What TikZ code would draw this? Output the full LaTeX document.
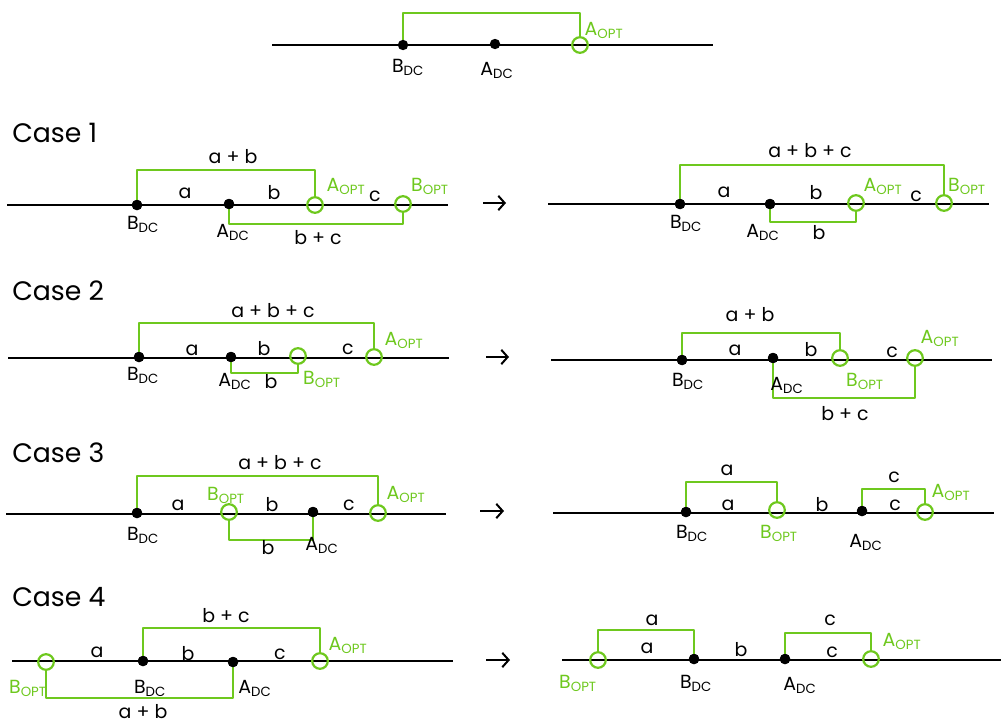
\documentclass[tikz,border=0pt]{standalone}
\usepackage{fontspec}
\setmainfont{Poppins}
\usetikzlibrary{arrows.meta}
\definecolor{gr}{RGB}{110,200,30}
\tikzset{
  axis/.style={line width=0.6mm, black},
  dotn/.style={circle, fill=black, inner sep=0pt, minimum size=2.6mm},
  optc/.style={circle, draw=gr, line width=0.55mm, inner sep=0pt, minimum size=3.9mm},
  br/.style={draw=gr, line width=0.6mm, line join=round},
  lbl/.style={font=\fontsize{13.5}{13.5}\selectfont, inner sep=0pt},
  glbl/.style={lbl, text=gr},
  ttl/.style={font=\fontsize{19}{19}\selectfont, inner sep=0pt, anchor=west},
  arr/.style={line width=0.5mm, -{Straight Barb[length=1.6mm, width=3.6mm]}},
}
\newcommand{\BDC}{B\textsubscript{DC}}
\newcommand{\ADC}{A\textsubscript{DC}}
\newcommand{\BOPT}{B\textsubscript{OPT}}
\newcommand{\AOPT}{A\textsubscript{OPT}}
\begin{document}
\begin{tikzpicture}[x=0.25mm, y=-0.25mm]
\useasboundingbox (0,0) rectangle (1001,726);

% ---------- top ----------
\coordinate (t-l) at (272,45); \coordinate (t-r) at (713,45);
\draw[axis] (t-l) -- (t-r);
\node[optc] (t-aopt) at (580,45) {};
\draw[br] (403,45) -- ++(0,-32) -| (t-aopt.north);
\node[dotn] (t-bdc) at (403,45) {};
\node[dotn] (t-adc) at (495,44) {};
\node[lbl] (t-bdcl) at (408,67) {\BDC};
\node[lbl] (t-adcl) at (497,70) {\ADC};
\node[glbl] (t-aoptl) at (604,30) {\AOPT};

% ---------- case 1 left ----------
\node[ttl] (c1t) at (12,133) {Case 1};
\coordinate (c1-l) at (7,205); \coordinate (c1-r) at (448,205);
\draw[axis] (c1-l) -- (c1-r);
\node[dotn] (c1-bdc) at (137,205) {};
\node[dotn] (c1-adc) at (229,204) {};
\node[optc] (c1-aopt) at (315,205) {};
\node[optc] (c1-bopt) at (403,204) {};
\draw[br] (c1-bdc.center) -- ++(0,-35) -| (c1-aopt.north);
\draw[br] (c1-adc.center) -- ++(0,20) -| (c1-bopt.south);
\node[dotn] at (c1-bdc) {};
\node[dotn] at (c1-adc) {};
\node[lbl] (c1-s1) at (233,157) {a + b};
\node[lbl] (c1-s2) at (318,238) {b + c};
\node[lbl] (c1-a) at (185,193) {a};
\node[lbl] (c1-b) at (274,193) {b};
\node[lbl] (c1-c) at (375,196) {c};
\node[glbl] (c1-aoptl) at (346,186) {\AOPT};
\node[glbl] (c1-boptl) at (430,186) {\BOPT};
\node[lbl] (c1-bdcl) at (143,224) {\BDC};
\node[lbl] (c1-adcl) at (233,232) {\ADC};

% ---------- case 1 right ----------
\coordinate (a1s) at (483,203); \coordinate (a1e) at (506,203);
\draw[arr] (a1s) -- (a1e);
\coordinate (d1-l) at (548,204); \coordinate (d1-r) at (989,204);
\draw[axis] (d1-l) -- (d1-r);
\node[dotn] (d1-bdc) at (680,204) {};
\node[dotn] (d1-adc) at (770,204) {};
\node[optc] (d1-aopt) at (856,203) {};
\node[optc] (d1-bopt) at (944,203) {};
\draw[br] (d1-bdc.center) -- ++(0,-39) -| (d1-bopt.north);
\draw[br] (d1-adc.center) -- ++(0,18) -| (d1-aopt.south);
\node[dotn] at (d1-bdc) {};
\node[dotn] at (d1-adc) {};
\node[lbl] (d1-s1) at (810,151) {a + b + c};
\node[lbl] (d1-s2) at (819,233) {b};
\node[lbl] (d1-a) at (724,192) {a};
\node[lbl] (d1-b) at (816,193) {b};
\node[lbl] (d1-c) at (916,196) {c};
\node[glbl] (d1-aoptl) at (883,186) {\AOPT};
\node[glbl] (d1-boptl) at (967,186) {\BOPT};
\node[lbl] (d1-bdcl) at (686,223) {\BDC};
\node[lbl] (d1-adcl) at (763,232) {\ADC};

% ---------- case 2 left ----------
\node[ttl] (c2t) at (12,291) {Case 2};
\coordinate (c2-l) at (8,358); \coordinate (c2-r) at (449,358);
\draw[axis] (c2-l) -- (c2-r);
\node[dotn] (c2-bdc) at (139,357) {};
\node[dotn] (c2-adc) at (231,357) {};
\node[optc] (c2-bopt) at (298,356) {};
\node[optc] (c2-aopt) at (374,357) {};
\draw[br] (c2-bdc.center) -- ++(0,-34) -| (c2-aopt.north);
\draw[br] (c2-adc.center) -- ++(0,16) -| (c2-bopt.south);
\node[dotn] at (c2-bdc) {};
\node[dotn] at (c2-adc) {};
\node[lbl] (c2-s1) at (273,311) {a + b + c};
\node[lbl] (c2-s2) at (271,382) {b};
\node[lbl] (c2-a) at (192,350) {a};
\node[lbl] (c2-b) at (264,349) {b};
\node[lbl] (c2-c) at (348,349) {c};
\node[glbl] (c2-boptl) at (322,379) {\BOPT};
\node[glbl] (c2-aoptl) at (404,340) {\AOPT};
\node[lbl] (c2-bdcl) at (143,375) {\BDC};
\node[lbl] (c2-adcl) at (235,381) {\ADC};

% ---------- case 2 right ----------
\coordinate (a2s) at (486,357); \coordinate (a2e) at (509,357);
\draw[arr] (a2s) -- (a2e);
\coordinate (d2-l) at (551,360); \coordinate (d2-r) at (992,360);
\draw[axis] (d2-l) -- (d2-r);
\node[dotn] (d2-bdc) at (682,360) {};
\node[dotn] (d2-adc) at (773,358) {};
\node[optc] (d2-bopt) at (840,358) {};
\node[optc] (d2-aopt) at (915,358) {};
\draw[br] (d2-bdc.center) -- ++(0,-27) -| (d2-bopt.north);
\draw[br] (d2-adc.center) -- ++(0,40) -| (d2-aopt.south);
\node[dotn] at (d2-bdc) {};
\node[dotn] at (d2-adc) {};
\node[lbl] (d2-s1) at (750,315) {a + b};
\node[lbl] (d2-s2) at (845,414) {b + c};
\node[lbl] (d2-a) at (735,350) {a};
\node[lbl] (d2-b) at (811,350) {b};
\node[lbl] (d2-c) at (892,352) {c};
\node[glbl] (d2-boptl) at (865,381) {\BOPT};
\node[glbl] (d2-aoptl) at (940,338) {\AOPT};
\node[lbl] (d2-bdcl) at (688,381) {\BDC};
\node[lbl] (d2-adcl) at (787,385) {\ADC};

% ---------- case 3 left ----------
\node[ttl] (c3t) at (12,453) {Case 3};
\coordinate (c3-l) at (6,514); \coordinate (c3-r) at (446,514);
\draw[axis] (c3-l) -- (c3-r);
\node[dotn] (c3-bdc) at (137,513) {};
\node[optc] (c3-bopt) at (229,512) {};
\node[dotn] (c3-adc) at (313,512) {};
\node[optc] (c3-aopt) at (378,513) {};
\draw[br] (c3-bdc.center) -- ++(0,-37) -| (c3-aopt.north);
\draw[br] (c3-bopt.south) -- ++(0,19) -| (c3-adc.center);
\node[dotn] at (c3-bdc) {};
\node[dotn] at (c3-adc) {};
\node[lbl] (c3-s1) at (280,463) {a + b + c};
\node[lbl] (c3-s2) at (268,548) {b};
\node[lbl] (c3-a) at (178,505) {a};
\node[lbl] (c3-b) at (272,505) {b};
\node[lbl] (c3-c) at (349,505) {c};
\node[glbl] (c3-boptl) at (226,495) {\BOPT};
\node[glbl] (c3-aoptl) at (406,494) {\AOPT};
\node[lbl] (c3-bdcl) at (143,535) {\BDC};
\node[lbl] (c3-adcl) at (322,545) {\ADC};

% ---------- case 3 right ----------
\coordinate (a3s) at (480,511); \coordinate (a3e) at (504,511);
\draw[arr] (a3s) -- (a3e);
\coordinate (d3-l) at (553,513); \coordinate (d3-r) at (994,513);
\draw[axis] (d3-l) -- (d3-r);
\node[dotn] (d3-bdc) at (686,512) {};
\node[optc] (d3-bopt) at (777,510) {};
\node[dotn] (d3-adc) at (862,511) {};
\node[optc] (d3-aopt) at (925,512) {};
\draw[br] (d3-bdc.center) -- ++(0,-30) -| (d3-bopt.north);
\draw[br] (d3-adc.center) -- ++(0,-22) -| (d3-aopt.north);
\node[dotn] at (d3-bdc) {};
\node[dotn] at (d3-adc) {};
\node[lbl] (d3-s1) at (727,470) {a};
\node[lbl] (d3-s2) at (894,477) {c};
\node[lbl] (d3-a) at (728,505) {a};
\node[lbl] (d3-b) at (822,505) {b};
\node[lbl] (d3-c) at (895,505) {c};
\node[glbl] (d3-boptl) at (779,533) {\BOPT};
\node[glbl] (d3-aoptl) at (951,492) {\AOPT};
\node[lbl] (d3-bdcl) at (692,533) {\BDC};
\node[lbl] (d3-adcl) at (866,542) {\ADC};

% ---------- case 4 left ----------
\node[ttl] (c4t) at (12,597) {Case 4};
\coordinate (c4-l) at (12,661); \coordinate (c4-r) at (453,661);
\draw[axis] (c4-l) -- (c4-r);
\node[optc] (c4-bopt) at (46,662) {};
\node[dotn] (c4-bdc) at (143,661) {};
\node[dotn] (c4-adc) at (233,662) {};
\node[optc] (c4-aopt) at (320,661) {};
\draw[br] (c4-bdc.center) -- ++(0,-33) -| (c4-aopt.north);
\draw[br] (c4-bopt.south) -- ++(0,27) -| (c4-adc.center);
\node[dotn] at (c4-bdc) {};
\node[dotn] at (c4-adc) {};
\node[lbl] (c4-s1) at (226,616) {b + c};
\node[lbl] (c4-s2) at (143,712) {a + b};
\node[lbl] (c4-a) at (97,652) {a};
\node[lbl] (c4-b) at (188,654) {b};
\node[lbl] (c4-c) at (280,654) {c};
\node[glbl] (c4-boptl) at (28,688) {\BOPT};
\node[glbl] (c4-aoptl) at (348,645) {\AOPT};
\node[lbl] (c4-bdcl) at (150,688) {\BDC};
\node[lbl] (c4-adcl) at (255,688) {\ADC};

% ---------- case 4 right ----------
\coordinate (a4s) at (486,660); \coordinate (a4e) at (510,660);
\draw[arr] (a4s) -- (a4e);
\coordinate (d4-l) at (562,660); \coordinate (d4-r) at (1001,660);
\draw[axis] (d4-l) -- (d4-r);
\node[optc] (d4-bopt) at (598,660) {};
\node[dotn] (d4-bdc) at (694,659) {};
\node[dotn] (d4-adc) at (785,659) {};
\node[optc] (d4-aopt) at (871,659) {};
\draw[br] (d4-bopt.north) -- ++(0,-21) -| (d4-bdc.center);
\draw[br] (d4-adc.center) -- ++(0,-26) -| (d4-aopt.north);
\node[dotn] at (d4-bdc) {};
\node[dotn] at (d4-adc) {};
\node[lbl] (d4-s1) at (652,620) {a};
\node[lbl] (d4-s2) at (830,620) {c};
\node[lbl] (d4-a) at (647,648) {a};
\node[lbl] (d4-b) at (741,650) {b};
\node[lbl] (d4-c) at (832,652) {c};
\node[glbl] (d4-boptl) at (578,683) {\BOPT};
\node[glbl] (d4-aoptl) at (902,641) {\AOPT};
\node[lbl] (d4-bdcl) at (696,683) {\BDC};
\node[lbl] (d4-adcl) at (800,685) {\ADC};
\end{tikzpicture}
\end{document}
